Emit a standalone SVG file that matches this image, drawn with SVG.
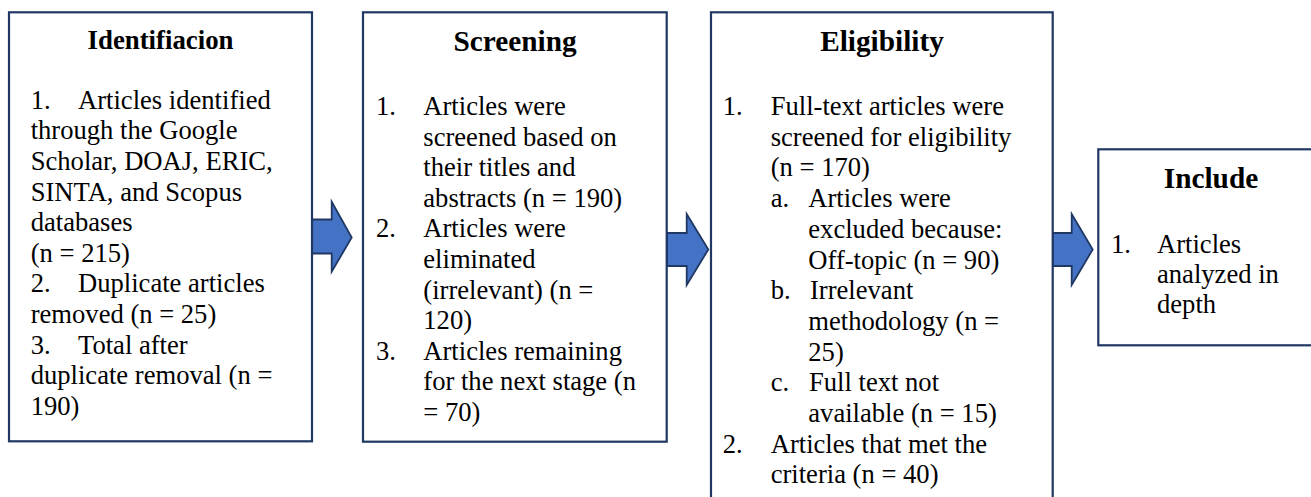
<svg xmlns="http://www.w3.org/2000/svg" width="1311" height="497" viewBox="0 0 1311 497">
<style>
.box{fill:#ffffff;stroke:#1F3864;stroke-width:2.2}
.arr{fill:#4472C4;stroke:#203864;stroke-width:1.8;stroke-linejoin:miter}
text{font-family:"Liberation Serif","Times New Roman",serif;fill:#000000}
.t{font-weight:bold;font-size:29.3px;text-anchor:middle}
.b{font-size:26.6px}
</style>
<rect x="0" y="0" width="1311" height="497" fill="#ffffff"/>
<g id="connectors">
<polygon class="arr" points="312,219.5 331.7,219.5 331.7,201.7 351.7,237.5 331.7,271.7 331.7,253.5 312,253.5"/>
<polygon class="arr" points="667,233 686.7,233 686.7,214 708.3,249.5 686.7,285 686.7,266 667,266"/>
<polygon class="arr" points="1052.7,233 1071.7,233 1071.7,214 1092.7,249.5 1071.7,285 1071.7,266 1052.7,266"/>
</g>
<g id="identification">
<rect class="box" x="9" y="12.3" width="303" height="429"/>
<text class="t" x="160.5" y="48.5" style="font-size:26.8px">Identifiacion</text>
<g class="b">
<text x="30.7" y="108.5">1.</text><text x="78" y="108.5">Articles identified</text>
<text x="30.7" y="139.2">through the Google</text>
<text x="30.7" y="169.8">Scholar, DOAJ, ERIC,</text>
<text x="30.7" y="200.5">SINTA, and Scopus</text>
<text x="30.7" y="231.1">databases</text>
<text x="30.7" y="261.8">(n = 215)</text>
<text x="30.7" y="292.4">2.</text><text x="78" y="292.4">Duplicate articles</text>
<text x="30.7" y="323.1">removed (n = 25)</text>
<text x="30.7" y="353.7">3.</text><text x="78" y="353.7">Total after</text>
<text x="30.7" y="384.4">duplicate removal (n =</text>
<text x="30.7" y="415">190)</text>
</g>
</g>
<g id="screening">
<rect class="box" x="363" y="12.3" width="303.7" height="429.4"/>
<text class="t" x="515" y="51">Screening</text>
<g class="b">
<text x="376" y="115">1.</text><text x="423.3" y="115">Articles were</text>
<text x="423.3" y="145.6">screened based on</text>
<text x="423.3" y="176.2">their titles and</text>
<text x="423.3" y="206.8">abstracts (n = 190)</text>
<text x="376" y="237.4">2.</text><text x="423.3" y="237.4">Articles were</text>
<text x="423.3" y="268">eliminated</text>
<text x="423.3" y="298.6">(irrelevant) (n =</text>
<text x="423.3" y="329.2">120)</text>
<text x="376" y="359.8">3.</text><text x="423.3" y="359.8">Articles remaining</text>
<text x="423.3" y="390.4">for the next stage (n</text>
<text x="423.3" y="421">= 70)</text>
</g>
</g>
<g id="eligibility">
<rect class="box" x="711" y="12.3" width="341.7" height="500"/>
<text class="t" x="882" y="51">Eligibility</text>
<g class="b">
<text x="722.7" y="115">1.</text><text x="770.7" y="115">Full-text articles were</text>
<text x="770.7" y="145.7">screened for eligibility</text>
<text x="770.7" y="176.4">(n = 170)</text>
<text x="770.7" y="207.1">a.</text><text x="808.3" y="207.1">Articles were</text>
<text x="808.3" y="237.8">excluded because:</text>
<text x="808.3" y="268.5">Off-topic (n = 90)</text>
<text x="770.7" y="299.2">b.</text><text x="810" y="299.2">Irrelevant</text>
<text x="808.3" y="329.9">methodology (n =</text>
<text x="808.3" y="360.6">25)</text>
<text x="770.7" y="391.3">c.</text><text x="809" y="391.3">Full text not</text>
<text x="808.3" y="422">available (n = 15)</text>
<text x="722.7" y="452.7">2.</text><text x="770.7" y="452.7">Articles that met the</text>
<text x="770.7" y="483.4">criteria (n = 40)</text>
</g>
</g>
<g id="include">
<rect class="box" x="1098.3" y="149.3" width="226" height="196"/>
<text class="t" x="1211" y="188.3">Include</text>
<g class="b">
<text x="1111" y="253.3">1.</text><text x="1157" y="253.3">Articles</text>
<text x="1157" y="283.3">analyzed in</text>
<text x="1157" y="313">depth</text>
</g>
</g>
</svg>
